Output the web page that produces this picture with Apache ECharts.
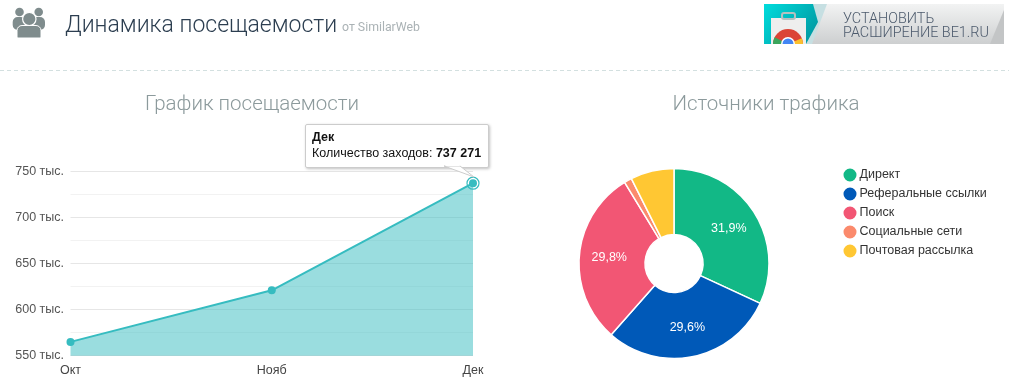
<!DOCTYPE html>
<html><head><meta charset="utf-8">
<style>html,body{margin:0;padding:0;background:#fff}#c{width:1009px;height:389px}</style>
<script src="https://cdn.jsdelivr.net/npm/echarts@6/dist/echarts.min.js"></script>
</head><body><div id="c"></div>
<script>
const months = ['Окт','Нояб','Дек'];
const visits = [565000, 621000, 737271];
const visitLabels = ['565 000','621 000','737 271'];
const yTicks = {min:550000, max:750000, step:50000};
const sources = ['Директ','Реферальные ссылки','Поиск','Социальные сети','Почтовая рассылка'];
const shares = [31.9,29.6,29.8,1.3,7.4];
const colors = ['#12b886','#0059b8','#f25674','#fb8a6c','#ffc733'];
const teal = '#36bcc0';
const chart = echarts.init(document.getElementById('c'),null,{renderer:'canvas'});
const ff = '"Liberation Sans",Arial,sans-serif';
const rf = 'Roboto,sans-serif';
const iconCol='#7f8c8d';
chart.setOption({
 animation:false,
 textStyle:{fontFamily:ff},
 title:[
  {text:'Динамика посещаемости',left:65,top:15,textStyle:{fontFamily:rf,fontWeight:300,fontSize:23,color:'#2c3e50'},padding:0},
  {text:'от SimilarWeb',left:342,top:22,textStyle:{fontFamily:rf,fontWeight:400,fontSize:12.3,color:'#aab2b5'},padding:0},
  {text:'График посещаемости',left:252,top:94,textAlign:'center',textStyle:{fontFamily:rf,fontWeight:300,fontSize:20.5,color:'#8c9a9c'},padding:0},
  {text:'Источники трафика',left:766,top:94,textAlign:'center',textStyle:{fontFamily:rf,fontWeight:300,fontSize:20.5,color:'#8c9a9c'},padding:0}
 ],
 grid:{left:70.5,right:1009-473,top:171.5,bottom:389-355.7,containLabel:false},
 xAxis:{type:'category',data:months,boundaryGap:false,
  axisLine:{show:false},axisTick:{show:false},
  axisLabel:{color:'#444',fontFamily:ff,fontSize:12.5,margin:8,hideOverlap:false,showMinLabel:true,showMaxLabel:true},splitLine:{show:false}},
 yAxis:{type:'value',min:yTicks.min,max:yTicks.max,interval:yTicks.step,
  axisLine:{show:false},axisTick:{show:false},
  axisLabel:{color:'#555',fontFamily:ff,fontSize:12.5,margin:6.5,padding:[4,0,0,0],formatter:v=>(v/1000)+' тыс.'},
  splitLine:{show:true,lineStyle:{color:'#e6e6e6',width:1}},
  minorTick:{show:false,splitNumber:2},
  minorSplitLine:{show:true,lineStyle:{color:'#f2f2f2',width:1}}},
 legend:{orient:'vertical',left:841.5,top:166.5,padding:0,itemWidth:15,itemHeight:15,itemGap:2,icon:'circle',
  data:sources,textStyle:{color:'#333',fontFamily:ff,fontSize:12.5,lineHeight:15,padding:[0,0,0,-3]}},
 tooltip:{show:true,trigger:'item',alwaysShowContent:true,transitionDuration:0,showDelay:0,hideDelay:0,
  backgroundColor:'#fff',borderColor:'#ccc',borderWidth:1,padding:[4,6,6,6],
  extraCssText:'box-shadow:1px 1px 3px rgba(0,0,0,.25);border-radius:2px;line-height:16px;width:170px;white-space:nowrap;',
  textStyle:{fontFamily:ff,fontSize:12.5,color:'#111'},
  position:(pt,p,dom,rect,size)=>[pt[0]-168,pt[1]-59],
  formatter:p=>'<b>'+p.name+'</b><br>Количество заходов: <b>'+visitLabels[p.dataIndex]+'</b>'+
   '<svg width="30" height="14" style="position:absolute;left:138px;top:41px;overflow:visible"><polygon points="0,0 16,0 30,11" fill="#fff" stroke="#ccc" stroke-width="1"/><polygon points="1,-1 15,-1 17,0 2,0" fill="#fff"/></svg>'},
 series:[
  {type:'line',name:'Количество заходов',data:visits,symbol:'circle',symbolSize:8,showSymbol:true,
   lineStyle:{color:teal,width:2},itemStyle:{color:teal},
   areaStyle:{color:teal,opacity:0.5},
   emphasis:{disabled:true},
   markPoint:{silent:true,symbol:'circle',symbolSize:12,
    itemStyle:{color:'rgba(0,0,0,0)',borderColor:teal,borderWidth:1.2},label:{show:false},
    data:[{coord:[months[2],visits[2]]}]}},
  {type:'pie',name:'Источники',center:[674,263.5],radius:[29,95],startAngle:90,clockwise:true,
   data:sources.map((n,i)=>({name:n,value:shares[i],label:{show:shares[i]>10}})),
   color:colors,
   itemStyle:{borderColor:'#fff',borderWidth:1.5},
   emphasis:{disabled:true},tooltip:{show:false},
   label:{position:'inside',color:'#fff',fontFamily:ff,fontSize:12.5,formatter:p=>p.value.toFixed(1).replace('.',',')+'%'},
   labelLine:{show:false}}
 ],
 graphic:[
  {type:'line',silent:true,shape:{x1:0,y1:70.5,x2:1009,y2:70.5},style:{stroke:'#d3e0e0',lineWidth:1,lineDash:[4,3]}},
  // people icon
  {type:'circle',silent:true,shape:{cx:19.5,cy:12,r:4.3},style:{fill:iconCol}},
  {type:'circle',silent:true,shape:{cx:38.7,cy:12,r:4.3},style:{fill:iconCol}},
  {type:'rect',silent:true,shape:{x:12.7,y:17,width:13,height:13,r:5},style:{fill:iconCol}},
  {type:'rect',silent:true,shape:{x:32,y:17,width:13,height:13,r:5},style:{fill:iconCol}},
  {type:'circle',silent:true,shape:{cx:29.3,cy:19,r:6.7},style:{fill:iconCol,stroke:'#fff',lineWidth:1.2}},
  {type:'rect',silent:true,shape:{x:17,y:25.5,width:24,height:12.5,r:[5,5,1,1]},style:{fill:iconCol,stroke:'#fff',lineWidth:1}},
  // extension banner
  {type:'rect',silent:true,shape:{x:764,y:4,width:240,height:40},style:{fill:new echarts.graphic.LinearGradient(0,0,0,1,[{offset:0,color:'#f2f3f3'},{offset:1,color:'#cdcfd0'}])}},
  {type:'polygon',silent:true,shape:{points:[[764,4],[827,4],[812,44],[764,44]]},style:{fill:'#c6dfe2'}},
  {type:'polygon',silent:true,shape:{points:[[764,4],[813,4],[818,22],[806,44],[764,44]]},style:{fill:new echarts.graphic.LinearGradient(0,0,1,1,[{offset:0,color:'#00dcdc'},{offset:1,color:'#00929c'}])}},
  {type:'polygon',silent:true,shape:{points:[[990,44],[1004,10],[1004,44]]},style:{fill:'#c3c5c6'}},
  {type:'rect',silent:true,shape:{x:771,y:18,width:35,height:26},style:{fill:'#eeeeee'}},
  {type:'rect',silent:true,shape:{x:782,y:13,width:13,height:6,r:2},style:{fill:'none',stroke:'#b7c0c0',lineWidth:2}},
  {type:'circle',silent:true,shape:{cx:788,cy:44,r:15},style:{fill:'#db4437'}},
  {type:'sector',silent:true,shape:{cx:788,cy:44,r:15,startAngle:-0.4,endAngle:0},style:{fill:'#fbc02d'}},
  {type:'sector',silent:true,shape:{cx:788,cy:44,r:15,startAngle:Math.PI,endAngle:Math.PI*1.15},style:{fill:'#3ba55c'}},
  {type:'circle',silent:true,shape:{cx:788,cy:44,r:7},style:{fill:'#fff'}},
  {type:'circle',silent:true,shape:{cx:788,cy:44,r:5.5},style:{fill:'#4285f4'}},
  {type:'rect',silent:true,shape:{x:764,y:44,width:60,height:20},style:{fill:'#fff'}},
  {type:'text',silent:true,x:843,y:12,style:{text:'УСТАНОВИТЬ',fontFamily:rf,fontWeight:300,fontSize:14.4,fill:'#4c5a6c'}},
  {type:'text',silent:true,x:843,y:26,style:{text:'РАСШИРЕНИЕ BE1.RU',fontFamily:rf,fontWeight:300,fontSize:14.4,fill:'#4c5a6c'}}
 ]
});
chart.dispatchAction({type:'showTip',seriesIndex:0,dataIndex:2});
</script></body></html>
